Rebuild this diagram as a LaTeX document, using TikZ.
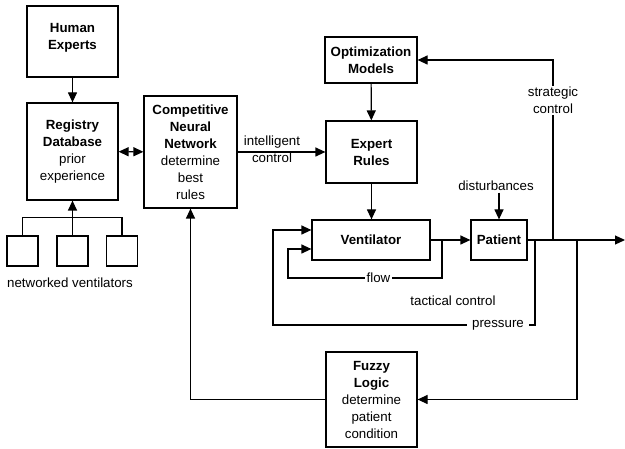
\documentclass[tikz,border=0pt]{standalone}
\usepackage{fontspec}
\setmainfont{Liberation Sans}
\usetikzlibrary{arrows.meta}

\begin{document}
\begin{tikzpicture}[x=1pt, y=-1pt,
    font=\fontsize{13.3}{17}\selectfont,
    box/.style={draw, line width=1.2pt, align=center, inner sep=0pt},
    lbl/.style={align=center, inner sep=1.5pt},
    tip/.tip={Triangle[length=10pt,width=9pt]},
    arr/.style={line width=1.2pt, -tip}]

    \useasboundingbox (0, 0) rectangle (625, 449);

    % blocks
    \node[box, minimum width=91pt, minimum height=71pt] (human) at (72.5, 41.5)
        {\bfseries Human\\\bfseries Experts\\[-6pt]};
    \node[box, minimum width=91pt, minimum height=97pt] (registry) at (72.5, 151.5)
        {\bfseries Registry\\\bfseries Database\\prior\\experience};
    \node[box, minimum width=93pt, minimum height=112pt] (cnn) at (190.5, 152)
        {\bfseries Competitive\\\bfseries Neural\\\bfseries Network\\determine\\best\\rules};
    \node[box, minimum width=92pt, minimum height=46pt] (opt) at (371, 60)
        {\bfseries Optimization\\\bfseries Models};
    \node[box, minimum width=91pt, minimum height=62pt] (rules) at (371.5, 152)
        {\bfseries Expert\\\bfseries Rules};
    \node[box, minimum width=118pt, minimum height=40pt] (vent) at (371, 240)
        {\bfseries Ventilator};
    \node[box, minimum width=56pt, minimum height=40pt] (patient) at (499, 240)
        {\bfseries Patient};
    \node[box, minimum width=91pt, minimum height=95pt] (fuzzy) at (371.5, 399.5)
        {\bfseries Fuzzy\\\bfseries Logic\\determine\\patient\\condition};

    % networked ventilators
    \node[box, minimum width=31pt, minimum height=30pt] (v1) at (22.5, 251) {};
    \node[box, minimum width=31pt, minimum height=30pt] (v2) at (72.5, 251) {};
    \node[box, minimum width=31pt, minimum height=30pt] (v3) at (122, 251) {};
    \node[lbl] (netlbl) at (70, 283) {networked ventilators};

    \draw [line width=1.2pt] (v1.north) -- ++(0, -18) -| (v3.north);
    \draw [arr] (v2.north) -- (registry.south);
    \draw [arr] (human) -- (registry);
    \draw [line width=1.2pt, tip-tip] (registry) -- (cnn);

    \draw [arr] (cnn) -- (rules);
    \node[lbl] (intel) at (272, 149) {intelligent\\control};
    \draw [arr] (opt) -- (rules);
    \draw [arr] (rules.south) -- (rules.south |- vent.north);
    \draw [arr] (vent) -- (patient);

    \node[lbl] (dist) at (496, 186) {disturbances};
    \draw [arr] (dist.south -| patient) -- (patient.north);

    % output and feedback taps
    \coordinate (out) at (625, 240);
    \coordinate (sc) at (553, 240);
    \coordinate (fl) at (442, 240);
    \coordinate (pr) at (535, 240);
    \coordinate (fz) at (577, 240);
    \draw [arr] (patient.east) -- (out);

    \draw [arr] (sc) |- (opt.east);
    \node[lbl, fill=white] (strat) at (553, 100.5) {strategic\\control};

    \draw [arr] (fl) |- (288, 278) |- ([yshift=-9pt]vent.west);
    \node[lbl, fill=white] (flow) at (378.5, 278) {flow};

    \draw [arr] (pr) |- (273, 325) |- ([yshift=10pt]vent.west);
    \node[lbl, fill=white, inner xsep=5pt] (press) at (498, 325) {pressure};
    \node[lbl] (tact) at (453, 301) {tactical control};

    \draw [arr] (fz) |- (fuzzy.east);
    \draw [arr] (fuzzy.west) -| (cnn.south);

\end{tikzpicture}
\end{document}
